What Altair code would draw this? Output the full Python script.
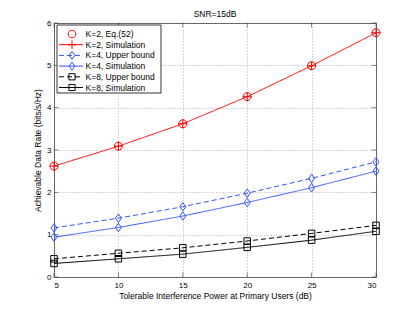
import altair as alt
import pandas as pd

FONT = "Liberation Sans"

x_vals = [5, 10, 15, 20, 25, 30]
k2_eq = [2.62, 3.09, 3.62, 4.26, 4.99, 5.77]
k2_sim = [2.62, 3.09, 3.62, 4.26, 4.99, 5.77]
k4_ub = [1.16, 1.39, 1.66, 1.98, 2.33, 2.72]
k4_sim = [0.94, 1.17, 1.44, 1.76, 2.11, 2.50]
k8_ub = [0.43, 0.56, 0.69, 0.85, 1.03, 1.22]
k8_sim = [0.32, 0.43, 0.54, 0.70, 0.87, 1.08]

series_names = ["K=2, Eq.(52)", "K=2, Simulation", "K=4, Upper bound",
                "K=4, Simulation", "K=8, Upper bound", "K=8, Simulation"]
series_values = [k2_eq, k2_sim, k4_ub, k4_sim, k8_ub, k8_sim]

x_ticks = [5, 10, 15, 20, 25, 30]
y_ticks = [0, 1, 2, 3, 4, 5, 6]

# styles (custom symbol paths, drawn at a common symbol size)
series_colors = ["#ff0000", "#ff0000", "#3355ff", "#3355ff", "#000000", "#000000"]
series_dash = [[1, 0], [1, 0], [5, 3], [1, 0], [5, 3], [1, 0]]
circle_path = "M-0.8,0A0.8,0.8 0 1,1 0.8,0A0.8,0.8 0 1,1 -0.8,0Z"
plus_path = "M-0.9,0H0.9M0,-0.9V0.9"
diamond_path = "M0,-0.85L0.6,0L0,0.85L-0.6,0Z"
square_path = "M-0.65,-0.65H0.65V0.65H-0.65Z"
series_shapes = [circle_path, plus_path, diamond_path, diamond_path, square_path, square_path]

rows = []
for name, vals in zip(series_names, series_values):
    for xv, yv in zip(x_vals, vals):
        rows.append({"series": name, "x": xv, "y": yv})
df = pd.DataFrame(rows)

color_enc = alt.Color("series:N", scale=alt.Scale(domain=series_names, range=series_colors), legend=None)
dash_enc = alt.StrokeDash("series:N", scale=alt.Scale(domain=series_names, range=series_dash), legend=None)
shape_enc = alt.Shape("series:N", scale=alt.Scale(domain=series_names, range=series_shapes), legend=None)

x_scale = alt.Scale(domain=[5, 30], nice=False)
x_enc = alt.X("x:Q", scale=x_scale,
              axis=alt.Axis(values=x_ticks, title="Tolerable Interference Power at Primary Users (dB)",
                            grid=True, gridDash=[1, 2], gridColor="#999", gridWidth=0.8,
                            ticks=False, domain=False, labelPadding=4, titlePadding=2,
                            labelFontSize=8, titleFontSize=8.5, labelFont=FONT, titleFont=FONT,
                            titleFontWeight="normal", labelColor="#000", titleColor="#000"))
y_axis = alt.Axis(values=y_ticks, title="Achievable Data Rate (bits/s/Hz)",
                  grid=True, gridDash=[1, 2], gridColor="#999", gridWidth=0.8,
                  ticks=False, domain=False, labelPadding=3, titlePadding=4,
                  labelFontSize=8, titleFontSize=8.5, labelFont=FONT, titleFont=FONT,
                  titleFontWeight="normal", labelColor="#000", titleColor="#000")
y_scale = alt.Scale(domain=[0, 6], nice=False)

base = alt.Chart(df)
lines = base.transform_filter(alt.datum.series != series_names[0]).mark_line(strokeWidth=1).encode(
    x=x_enc, y=alt.Y("y:Q", scale=y_scale, axis=y_axis),
    color=color_enc, strokeDash=dash_enc, detail="series:N")
points = base.mark_point(filled=False, strokeWidth=1, opacity=1, size=100).encode(
    x=x_enc, y=alt.Y("y:Q", scale=y_scale, axis=None),
    color=color_enc, shape=shape_enc)

# inward tick marks on all four sides (from the tick value lists)
xt_df = pd.DataFrame({"x": x_ticks})
yt_df = pd.DataFrame({"yv": y_ticks})
xt_bottom = alt.Chart(xt_df).mark_tick(orient="vertical", size=5, thickness=0.8, color="#333").encode(
    x=alt.X("x:Q", scale=x_scale), y=alt.value(252))
xt_top = alt.Chart(xt_df).mark_tick(orient="vertical", size=5, thickness=0.8, color="#333").encode(
    x=alt.X("x:Q", scale=x_scale), y=alt.value(2))
yt_left = alt.Chart(yt_df).mark_tick(orient="horizontal", size=5, thickness=0.8, color="#333").encode(
    y=alt.Y("yv:Q", scale=y_scale, axis=None), x=alt.value(2))
yt_right = alt.Chart(yt_df).mark_tick(orient="horizontal", size=5, thickness=0.8, color="#333").encode(
    y=alt.Y("yv:Q", scale=y_scale, axis=None), x=alt.value(320))

# legend
leg_df = pd.DataFrame({"series": series_names, "row": list(range(len(series_names)))})
leg_y = alt.Y("row:Q", scale=alt.Scale(domain=[0, 5], range=[11, 64.5]), axis=None)
legend_box = alt.Chart(pd.DataFrame({"a": [0]})).mark_rect(
    fill="white", stroke="#000", strokeWidth=0.8).encode(
    x=alt.value(3), x2=alt.value(107), y=alt.value(2), y2=alt.value(70))
leg_lines = alt.Chart(leg_df).transform_filter(alt.datum.series != series_names[0]).mark_rule(
    strokeWidth=1).encode(x=alt.value(5), x2=alt.value(29), y=leg_y,
                          color=color_enc, strokeDash=dash_enc)
leg_pts = alt.Chart(leg_df).mark_point(filled=False, strokeWidth=1, opacity=1, size=90).encode(
    x=alt.value(18), y=leg_y, color=color_enc, shape=shape_enc)
leg_text = alt.Chart(leg_df).mark_text(align="left", baseline="middle", fontSize=8.5,
                                       font=FONT, color="#000").encode(
    x=alt.value(31.5), y=leg_y, text="series:N")

chart = alt.layer(xt_bottom, xt_top, yt_left, yt_right, lines, points,
                  legend_box, leg_lines, leg_pts, leg_text).resolve_scale(
    y="independent"
).properties(
    width=322, height=254,
    title=alt.TitleParams("SNR=15dB", fontSize=8.5, fontWeight="normal", font=FONT,
                          color="#000", offset=1, anchor="middle"),
    autosize=alt.AutoSizeParams(type="none"),
    padding={"left": 46, "top": 15, "right": 25, "bottom": 25},
).configure_view(stroke="#555", strokeWidth=1)

chart.save("out.html", embed_options={"renderer": "svg", "actions": False})
